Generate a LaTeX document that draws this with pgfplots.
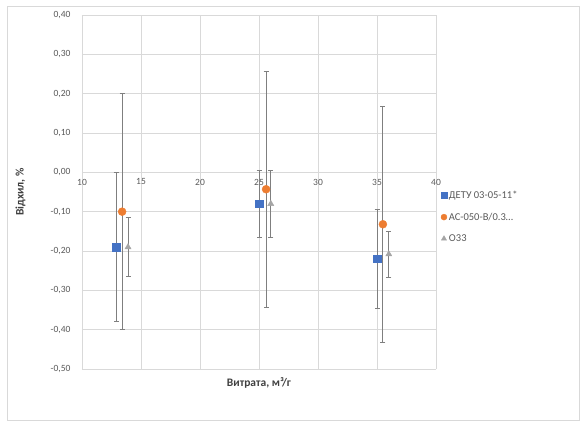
\documentclass[border=0pt]{standalone}
\usepackage{pgfplots}
\pgfplotsset{compat=1.18}
\usepackage{fontspec}
\setmainfont{Carlito}
\definecolor{sblue}{HTML}{4472C4}
\definecolor{sorange}{HTML}{ED7D31}
\definecolor{sgray}{HTML}{A5A5A5}
\definecolor{gridc}{HTML}{D9D9D9}
\definecolor{txt}{HTML}{595959}
\definecolor{lab}{HTML}{404040}
\definecolor{errc}{HTML}{7F7F7F}
\begin{document}
\begin{tikzpicture}[x=1pt,y=1pt]
\useasboundingbox (0,0) rectangle (580,423);
\draw[gridc, line width=0.8pt] (7,3) rectangle (579,417);
\begin{axis}[
  at={(82pt,54pt)}, anchor=south west,
  scale only axis, width=354pt, height=354pt,
  xmin=10, xmax=40, ymin=-0.5, ymax=0.4,
  axis x line*=middle, axis y line*=left,
  hide obscured x ticks=false,
  axis line style={gridc, line width=0.8pt},
  xtick={10,15,20,25,30,35,40},
  ytick={-0.5,-0.4,-0.3,-0.2,-0.1,0,0.1,0.2,0.3,0.4},
  major tick length=0pt,
  grid=major, major grid style={gridc, line width=0.6pt},
  tick label style={font=\fontsize{9.5}{11}\selectfont, text=txt},
  /pgf/number format/assume math mode=true,
  yticklabel style={/pgf/number format/fixed, /pgf/number format/fixed zerofill, /pgf/number format/precision=2, /pgf/number format/use comma, xshift=-8pt},
  xticklabel style={yshift=-3pt},
  xlabel={Витрата, м³/г},
  ylabel={Відхил, \%},
  label style={font=\bfseries\fontsize{11.5}{13}\selectfont, text=lab},
  xlabel style={at={(rel axis cs:0.5,0)}, anchor=north, yshift=-5pt},
  ylabel style={at={(rel axis cs:0,0.5)}, anchor=south, yshift=53pt},
  legend style={at={(1.005,0.43)}, anchor=west, draw=none, fill=none,
    font=\fontsize{10.5}{12}\selectfont, text=txt, row sep=9pt,
    legend cell align=left},
  legend image code/.code={\draw[#1, mark size=3pt] plot coordinates {(0.15cm,0cm)};},
  error bars/error bar style={errc, line width=1pt},
  error bars/error mark options={rotate=90, errc, mark size=2.5pt, line width=0.8pt},
  clip=false,
]
\addplot[only marks, mark=square*, mark size=3.8pt, color=sblue,
  error bars/.cd, y dir=both, y explicit]
  table[x=x, y=y, y error=e] {
x y e
12.9 -0.19 0.19
25.0 -0.08 0.085
35.0 -0.22 0.125
};
\addlegendentry{ДЕТУ 03-05-11*}
\addplot[only marks, mark=*, mark size=4pt, color=sorange,
  error bars/.cd, y dir=both, y explicit]
  table[x=x, y=y, y error=e] {
x y e
13.4 -0.10 0.30
25.6 -0.043 0.30
35.5 -0.132 0.30
};
\addlegendentry{АС-050-В/0.3…}
\addplot[only marks, mark=triangle*, mark size=3.5pt, color=sgray,
  error bars/.cd, y dir=both, y explicit]
  table[x=x, y=y, y error=e] {
x y e
13.9 -0.19 0.075
26.0 -0.08 0.085
36.0 -0.208 0.058
};
\addlegendentry{О33}
\end{axis}
\end{tikzpicture}
\end{document}
